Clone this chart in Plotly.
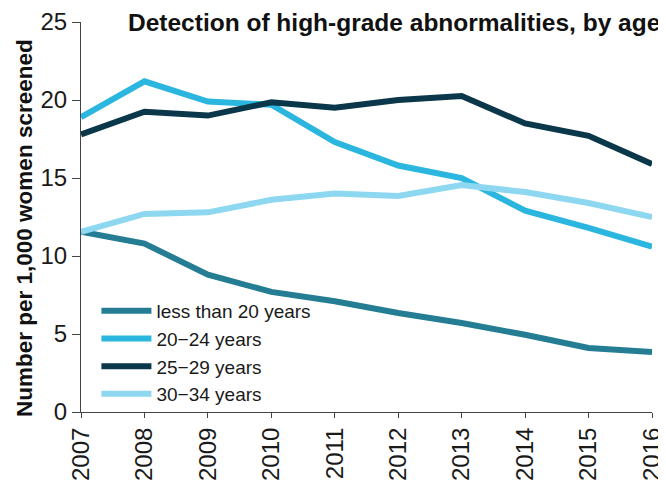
import plotly.graph_objects as go

years = [2007, 2008, 2009, 2010, 2011, 2012, 2013, 2014, 2015, 2016]
under20 = [11.55, 10.8, 8.8, 7.7, 7.1, 6.35, 5.7, 4.95, 4.1, 3.85]
age20_24 = [18.9, 21.2, 19.9, 19.7, 17.3, 15.8, 15.0, 12.9, 11.8, 10.6]
age25_29 = [17.8, 19.25, 19.0, 19.85, 19.5, 20.0, 20.25, 18.5, 17.7, 15.9]
age30_34 = [11.55, 12.7, 12.8, 13.6, 14.0, 13.85, 14.55, 14.1, 13.4, 12.5]

series = [
    ("less than 20 years", under20, "#257D94"),
    ("20\u221224 years", age20_24, "#2AB6DE"),
    ("25\u221229 years", age25_29, "#0A3749"),
    ("30\u221234 years", age30_34, "#8DD8F0"),
]

fig = go.Figure()
for name, vals, col in series:
    fig.add_trace(go.Scatter(x=years, y=vals, name=name, mode="lines",
                             line=dict(color=col, width=6)))

# page body has an 8px default margin, so the figure is sized to fit the window
fig.update_layout(
    width=658, height=477,
    margin=dict(l=73, r=14, t=14, b=73),
    plot_bgcolor="white", paper_bgcolor="white",
    font=dict(family="Liberation Sans, Arial, sans-serif", color="#1a1a1a"),
    showlegend=True,
    legend=dict(x=0.027, y=0.308, xanchor="left", yanchor="top",
                font=dict(size=19, color="#1a1a1a"), bgcolor="rgba(0,0,0,0)",
                tracegroupgap=0, itemwidth=50),
    annotations=[
        dict(text="<b>Detection of high-grade abnormalities, by age</b>",
             x=1.0175, y=1.0, xref="paper", yref="paper", xanchor="right", yanchor="middle",
             showarrow=False, font=dict(size=24.5, color="#111")),
        dict(text="<b>Number per 1,000 women screened</b>", textangle=-90,
             x=-0.098, y=0.472, xref="paper", yref="paper", xanchor="center", yanchor="middle",
             showarrow=False, font=dict(size=22.5, color="#111")),
    ],
)
fig.update_xaxes(range=[2007, 2016], tickvals=years, ticktext=[str(y) for y in years],
                 tickangle=-90, tickfont=dict(size=24), showline=True, linecolor="#444",
                 linewidth=1, ticks="outside", ticklen=5, tickcolor="#444", showgrid=False,
                 zeroline=False, automargin=False)
fig.update_yaxes(range=[0, 25], tickvals=[0, 5, 10, 15, 20, 25], tickfont=dict(size=24),
                 showline=True, linecolor="#444", linewidth=1, ticks="outside", ticklen=8,
                 tickcolor="#444", showgrid=False, zeroline=False, automargin=False)
fig.write_html("out.html")
